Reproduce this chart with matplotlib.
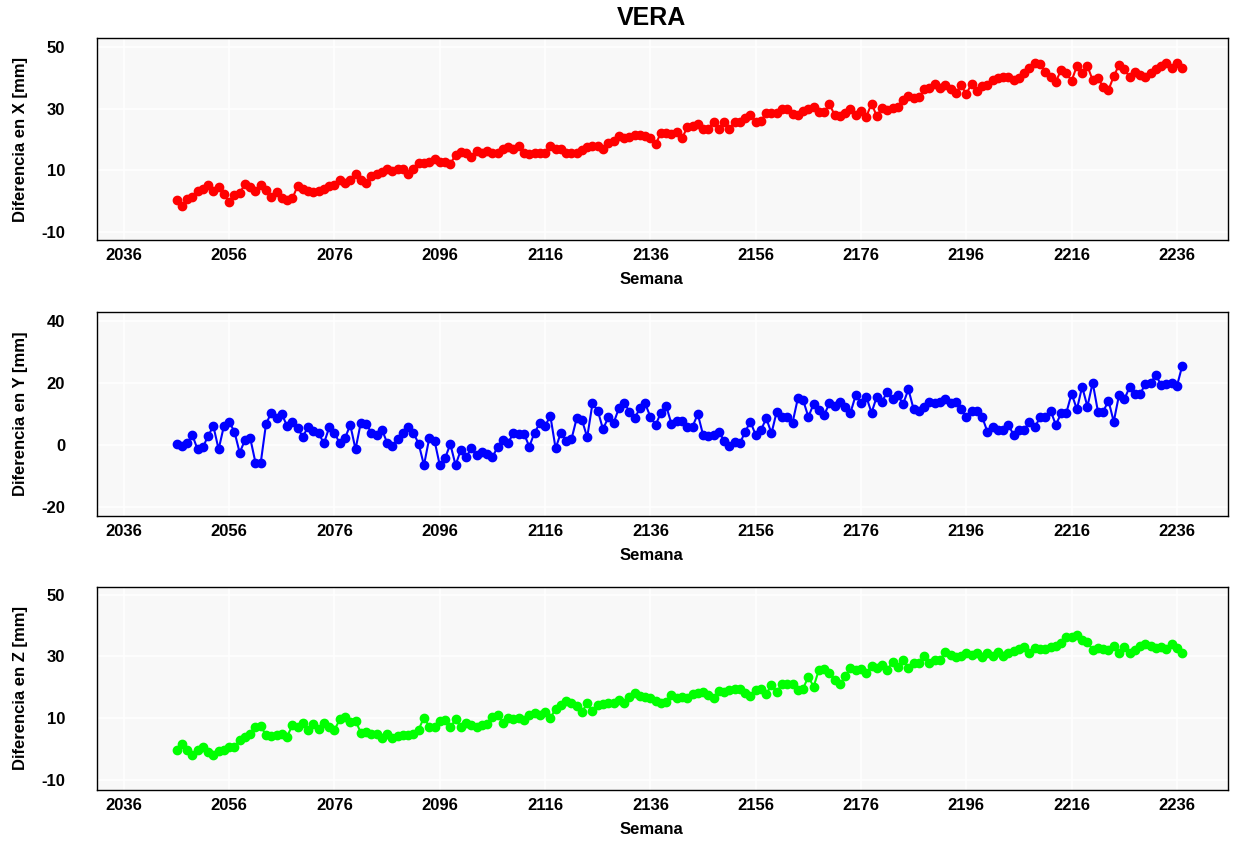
import numpy as np
import matplotlib
matplotlib.use("Agg")
import matplotlib.pyplot as plt

plt.rcParams['font.family'] = ['Liberation Sans', 'DejaVu Sans']
plt.rcParams['axes.unicode_minus'] = False

title = "VERA"
xlabel = "Semana"
ylabels = ["Diferencia en X [mm]", "Diferencia en Y [mm]", "Diferencia en Z [mm]"]
first_week = 2046

dx = [0.3, -1.7, 0.5, 1.3, 3.3, 4.0, 5.1, 3.3, 4.6, 2.4, -0.3, 1.9, 2.6, 5.4, 4.4, 3.3, 5.1, 3.5, 1.3, 3.0,
      1.0, 0.3, 0.8, 4.8, 3.7, 3.3, 3.0, 3.3, 4.0, 4.8, 5.2, 6.8, 5.7, 6.8, 8.6, 6.8, 5.7, 8.1, 8.7, 9.5,
      10.5, 9.7, 10.5, 10.2, 8.7, 10.5, 12.4, 12.2, 12.7, 13.5, 12.7, 12.5, 12.0, 14.9,
      15.9, 15.4, 14.3, 16.3, 15.4, 16.3, 15.6, 15.6, 17.0, 17.6, 17.0, 17.8, 15.4, 15.1, 15.6, 15.7,
      15.7, 17.8, 16.7, 16.7, 15.7, 15.4, 15.7, 16.5, 17.6, 17.8, 17.8, 16.7, 18.7, 19.4, 21.0, 20.3,
      20.8, 21.4, 21.4, 21.1, 20.3, 18.4, 22.1, 21.9, 21.7, 22.4, 20.3, 23.9, 24.3, 25.1, 23.2, 23.5,
      25.7, 23.5,
      25.7, 23.2, 25.7, 25.7, 26.8, 27.9, 25.7, 26.0, 28.6, 28.6, 28.4, 30.0, 29.7, 28.2, 27.9, 29.2,
      30.0, 30.6, 28.9, 28.9, 31.4, 27.9, 27.5, 28.4, 29.7, 27.9, 29.2, 27.3, 31.6, 27.5, 30.3, 29.5,
      30.3, 30.6, 32.9, 34.0, 33.3, 33.6, 36.2, 36.5, 38.1, 36.5, 37.6, 36.2, 34.9, 37.6, 34.7, 38.1,
      35.8, 37.3, 37.6, 39.4,
      39.8, 40.1, 40.1, 39.2, 39.8, 41.6, 43.3, 44.9, 44.4, 41.9, 40.1, 38.7, 42.5, 41.4, 39.0, 43.8,
      41.4, 43.8, 39.2, 39.8, 37.1, 36.0, 40.5, 44.1, 42.7, 40.3, 41.9, 40.8, 40.1, 41.4, 42.7, 43.8,
      44.9, 43.0, 44.7, 43.3]

dy = [0.3, -0.2, 0.5, 3.2, -1.4, -0.75, 2.9, 6.1, -1.4, 6.1, 7.5, 4.3, -2.5, 1.6, 2.2, -5.7, -5.7, 6.8,
      10.4, 8.6, 10.0, 6.1, 7.5, 5.4, 2.7, 5.9, 4.6, 3.8, 0.5, 5.7, 4.0, 0.5, 2.2, 6.5, -1.4, 7.2, 6.8,
      4.0, 3.2, 5.0, 0.75, -0.2, 1.8, 4.0, 5.9, 4.0, 0.3, -6.5, 2.2, 1.4, -6.5, -4.3, 0.3, -6.5,
      -1.6, -4.0, -1.1, -3.2, -2.2, -2.9, -4.0, -0.5, 1.6, 0.8, 3.8, 3.6, 3.6, -0.5, 4.0, 7.0, 6.1, 9.4,
      -1.1, 4.0, 1.4, 1.8, 8.6, 8.1, 2.5, 13.4, 11.1, 5.1, 8.9, 7.0, 11.8, 13.7, 10.8, 8.6, 11.8, 13.4,
      9.1, 6.5, 10.4, 12.6, 6.8, 7.9, 7.9, 5.7, 5.9, 10.0, 3.3, 2.9, 3.3, 4.3, 1.4, -0.3, 1.1, 0.5,
      4.3, 7.5, 3.2, 4.8, 8.6, 3.8, 10.8, 9.1, 9.1, 7.2, 15.0, 14.5, 9.1, 13.2, 11.3, 9.7, 13.4, 12.6,
      14.0, 12.4, 10.4, 16.1, 13.4, 15.6, 10.4, 15.6, 14.0, 17.2, 14.7, 16.1, 13.2, 18.0, 11.5, 11.1,
      12.2, 14.0, 13.7, 14.0, 14.7, 13.7, 14.0, 11.5, 9.1, 11.1, 11.1, 9.1, 4.3, 5.7, 5.0, 5.0,
      6.5, 3.2, 4.8, 5.0, 7.5, 5.7, 8.9, 9.1, 11.1, 6.5, 10.2, 10.4, 16.6, 11.5, 18.8, 12.4, 20.1,
      10.8, 10.8, 14.3, 7.5, 16.1, 14.7, 18.6, 16.4, 16.4, 19.7, 19.9, 22.6, 19.3, 19.7, 20.1, 19.0,
      25.5]

dz = [-0.4, 1.5, -0.2, -2.0, -0.4, 0.7, -0.9, -2.0, -0.6, -0.4, 0.7, 0.5, 2.9, 4.0, 4.8, 7.0, 7.4,
      4.5, 4.2, 4.5, 5.0, 4.0, 7.7, 7.2, 8.5, 6.1, 8.0, 6.6, 8.5, 7.2, 6.1, 9.6, 10.4, 8.8, 9.1, 5.3,
      5.6, 5.0, 4.8, 3.4, 5.0, 3.7, 4.2, 4.5, 4.5, 5.0, 6.3, 10.2, 7.2, 7.2, 9.1,
      9.35, 7.0, 9.6, 7.0, 8.5, 7.7, 7.0, 7.7, 8.1, 10.4, 10.9, 8.5, 10.2, 9.6, 10.2, 9.35, 10.9, 11.7,
      10.9, 12.0, 9.9, 13.1, 14.2, 15.6, 14.9, 13.9, 12.0, 14.8, 12.4, 14.2, 14.5, 14.8, 14.9, 15.8,
      14.8, 16.9, 18.2, 17.1, 16.9, 16.4, 15.6, 14.8, 15.3, 17.5, 16.4, 16.9, 16.4, 17.8, 18.2, 18.5,
      17.5, 16.4, 18.9,
      18.5, 19.1, 19.3, 19.6, 18.2, 17.1, 19.1, 19.6, 17.8, 20.7, 18.5, 21.0, 21.2, 21.0, 19.1, 19.6,
      23.4, 20.2, 25.6, 25.8, 24.7, 22.5, 21.0, 23.6, 26.4, 25.6, 25.8, 24.5, 26.9, 26.1, 27.2, 25.6,
      28.3, 26.7, 29.0, 26.4, 28.0, 27.8, 30.1, 27.8, 29.0, 28.8, 31.5, 30.4, 29.7, 30.1, 31.0, 30.4,
      31.0, 29.9, 31.2, 30.1, 31.5,
      30.1, 31.2, 31.8, 32.3, 32.9, 31.0, 32.6, 32.3, 32.3, 32.9, 33.3, 34.4, 36.4, 36.4, 36.9, 35.3,
      34.7, 32.1, 32.6, 32.3, 32.1, 33.3, 31.0, 32.9, 31.0, 32.1, 33.3, 34.0, 33.3, 32.6, 32.9, 32.3,
      34.0, 32.6, 31.0]

series = [dx, dy, dz]
colors = ["#ff0000", "#0000ff", "#00ff00"]
xticks = [2036, 2056, 2076, 2096, 2116, 2136, 2156, 2176, 2196, 2216, 2236]
yticks_list = [[-10, 10, 30, 50], [-20, 0, 20, 40], [-10, 10, 30, 50]]
ylims = [(-12.7, 52.9), (-22.9, 42.9), (-13.3, 52.5)]

fig = plt.figure(figsize=(12.36, 8.41), dpi=100)
W, H = 1236, 841
boxes = [(38, 240), (312, 516), (587, 790)]
left_px, right_px = 97, 1228

for i, (top, bot) in enumerate(boxes):
    ax = fig.add_axes([left_px / W, 1 - bot / H, (right_px - left_px) / W, (bot - top) / H])
    vals = series[i]
    weeks = first_week + np.arange(len(vals))
    ax.set_facecolor("#f8f8f8")
    ax.grid(True, color="white", linewidth=1.2)
    ax.set_axisbelow(True)
    ax.plot(weeks, vals, "-o", color=colors[i], markersize=6, linewidth=1.5)
    ax.set_xlim(2030.9, 2245.7)
    ax.set_ylim(*ylims[i])
    ax.set_xticks(xticks)
    ax.set_yticks(yticks_list[i])
    ax.tick_params(axis="x", length=0, labelsize=12, pad=6)
    ax.tick_params(axis="y", length=0, labelsize=12, pad=23)
    for lab in ax.get_xticklabels() + ax.get_yticklabels():
        lab.set_fontweight("bold")
    for sp in ax.spines.values():
        sp.set_color("black")
        sp.set_linewidth(1.0)
    ax.set_xlabel(xlabel, fontsize=12, fontweight="bold")
    ax.xaxis.set_label_coords((651 - left_px) / (right_px - left_px), -40 / (bot - top),
                              transform=ax.transAxes)
    ax.xaxis.label.set_verticalalignment("center")
    ax.set_ylabel(ylabels[i], fontsize=12, fontweight="bold")
    ax.yaxis.set_label_coords(-(left_px - 21) / (right_px - left_px), 0.5, transform=ax.transAxes)
    ax.yaxis.label.set_verticalalignment("center")

fig.text(651 / W, 1 - 18 / H, title, fontsize=18, fontweight="bold", ha="center", va="center")

fig.savefig("out.png", dpi=100)
